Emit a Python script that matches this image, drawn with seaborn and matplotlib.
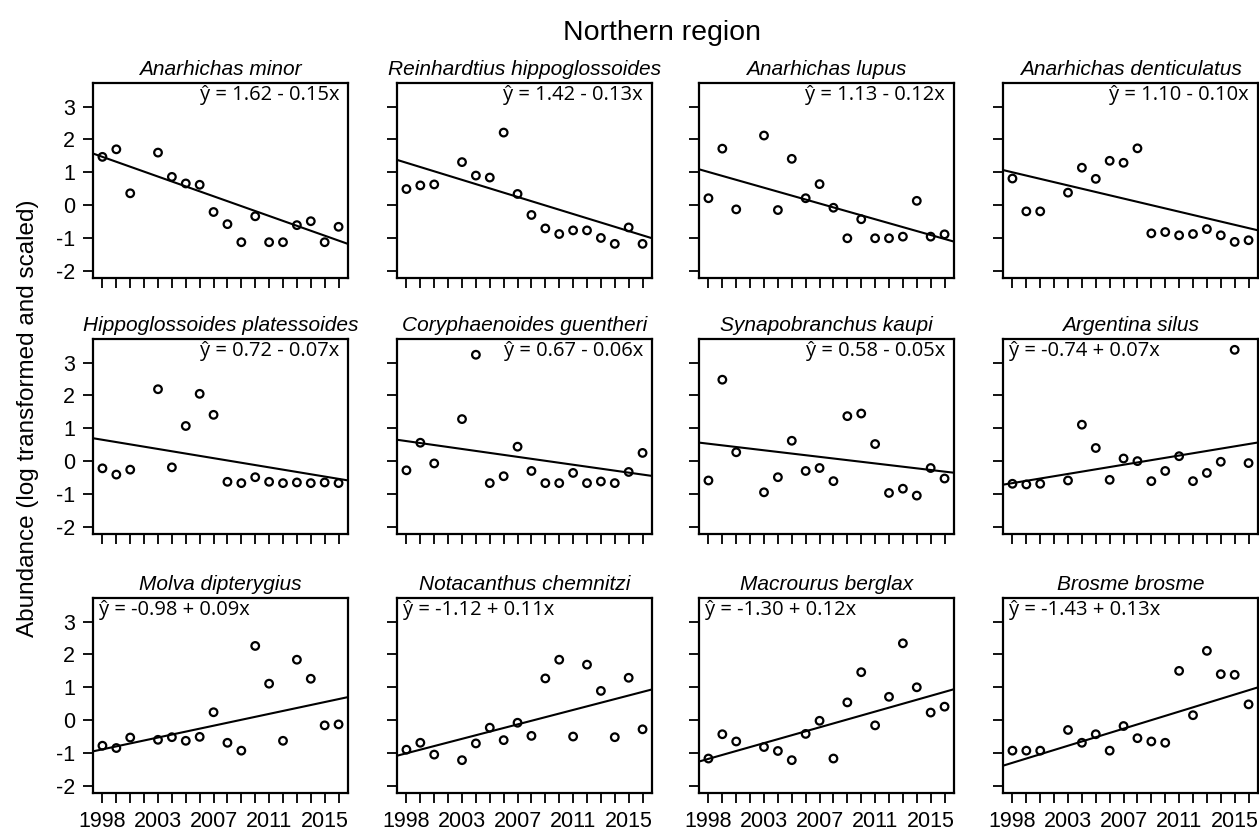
import numpy as np
import pandas as pd
import matplotlib
matplotlib.use('Agg')
import matplotlib.pyplot as plt
import seaborn as sns

### Data

x_pos = [1, 2, 3, 5, 6, 7, 8, 9, 10, 11, 12, 13, 14, 15, 16, 17, 18]
year_ticks = [1, 5, 9, 13, 17]
year_labels = ['1998', '2003', '2007', '2011', '2015']

species = ['Anarhichas minor', 'Reinhardtius hippoglossoides', 'Anarhichas lupus',
           'Anarhichas denticulatus', 'Hippoglossoides platessoides',
           'Coryphaenoides guentheri', 'Synapobranchus kaupi', 'Argentina silus',
           'Molva dipterygius', 'Notacanthus chemnitzi', 'Macrourus berglax',
           'Brosme brosme']

intercepts = [1.62, 1.42, 1.13, 1.10, 0.72, 0.67, 0.58, -0.74, -0.98, -1.12, -1.30, -1.43]
slopes = [-0.15, -0.13, -0.12, -0.10, -0.07, -0.06, -0.05, 0.07, 0.09, 0.11, 0.12, 0.13]

a_minor = [1.47, 1.70, 0.36, 1.60, 0.86, 0.66, 0.62, -0.21, -0.58, -1.13, -0.34, -1.13, -1.13, -0.61, -0.49, -1.13, -0.66]
r_hippo = [0.49, 0.60, 0.63, 1.31, 0.90, 0.84, 2.21, 0.34, -0.30, -0.71, -0.88, -0.77, -0.77, -1.00, -1.18, -0.68, -1.18]
a_lupus = [0.21, 1.72, -0.13, 2.12, -0.15, 1.41, 0.21, 0.64, -0.08, -1.01, -0.43, -1.01, -1.01, -0.96, 0.13, -0.96, -0.89]
a_dent = [0.81, -0.19, -0.19, 0.38, 1.14, 0.80, 1.35, 1.29, 1.73, -0.86, -0.82, -0.92, -0.88, -0.73, -0.92, -1.12, -1.07]
h_plat = [-0.22, -0.41, -0.26, 2.19, -0.19, 1.07, 2.05, 1.41, -0.63, -0.67, -0.49, -0.63, -0.67, -0.65, -0.67, -0.65, -0.67]
c_guen = [-0.28, 0.56, -0.07, 1.28, 3.24, -0.67, -0.46, 0.44, -0.30, -0.67, -0.67, -0.36, -0.67, -0.62, -0.67, -0.33, 0.25]
s_kaupi = [-0.59, 2.48, 0.27, -0.95, -0.49, 0.62, -0.30, -0.21, -0.61, 1.37, 1.45, 0.52, -0.97, -0.84, -1.05, -0.21, -0.53]
a_silus = [-0.69, -0.71, -0.69, -0.59, 1.11, 0.40, -0.57, 0.08, 0.00, -0.61, -0.30, 0.15, -0.61, -0.36, -0.02, 3.39, -0.06]
m_dipt = [-0.78, -0.85, -0.53, -0.60, -0.52, -0.63, -0.51, 0.24, -0.69, -0.93, 2.26, 1.11, -0.63, 1.84, 1.26, -0.16, -0.13]
n_chem = [-0.90, -0.69, -1.05, -1.22, -0.71, -0.23, -0.61, -0.08, -0.48, 1.27, 1.84, -0.50, 1.69, 0.89, -0.52, 1.29, -0.28]
m_berg = [-1.17, -0.43, -0.65, -0.82, -0.94, -1.22, -0.42, -0.02, -1.17, 0.54, 1.46, -0.16, 0.71, 2.34, 1.00, 0.23, 0.41]
b_brosme = [-0.93, -0.93, -0.93, -0.30, -0.69, -0.43, -0.93, -0.18, -0.55, -0.65, -0.69, 1.50, 0.15, 2.11, 1.40, 1.38, 0.48]

values = [a_minor, r_hippo, a_lupus, a_dent, h_plat, c_guen, s_kaupi, a_silus,
          m_dipt, n_chem, m_berg, b_brosme]

df = pd.concat([pd.DataFrame({'species': sp, 'x': x_pos, 'abundance': v})
                for sp, v in zip(species, values)], ignore_index=True)

### Plot

sns.set_style('ticks')
plt.rcParams['font.family'] = ['Liberation Sans', 'DejaVu Sans']
plt.rcParams['text.color'] = 'black'
plt.rcParams['xtick.color'] = 'black'
plt.rcParams['ytick.color'] = 'black'

W, H = 1259, 832
fig = plt.figure(figsize=(W / 100, H / 100), dpi=100)

col_left = [93, 397, 699, 1003]
row_top = [83, 339, 598]
pw, ph = 255, 195

x_lo, x_hi = 1 - 0.04 * 17, 18 + 0.04 * 17
y_lo, y_hi = -2 - 0.04 * 5.5, 3.5 + 0.04 * 5.5

for i, sp in enumerate(species):
    r, c = divmod(i, 4)
    ax = fig.add_axes([col_left[c] / W, 1 - (row_top[r] + ph) / H, pw / W, ph / H])
    sub = df[df['species'] == sp]
    sns.scatterplot(data=sub, x='x', y='abundance', ax=ax, marker='o', s=30,
                    facecolors='none', edgecolor='black', linewidth=1.6)
    a, b = intercepts[i], slopes[i]
    ax.axline((0, a), slope=b, color='black', lw=1.5)

    ax.set_xlim(x_lo, x_hi)
    ax.set_ylim(y_lo, y_hi)
    ax.set_xticks(range(1, 19))
    ax.set_yticks(range(-2, 4))
    if r == 2:
        ax.set_xticklabels([year_labels[year_ticks.index(t)] if t in year_ticks else ''
                            for t in range(1, 19)])
    else:
        ax.set_xticklabels([])
    if c == 0:
        ax.set_yticklabels([str(t) for t in range(-2, 4)])
    else:
        ax.set_yticklabels([])
    ax.tick_params(length=7, width=1.3, labelsize=15.5, pad=6, color='black',
                   labelcolor='black')
    for s in ax.spines.values():
        s.set_visible(True)
        s.set_linewidth(1.6)
        s.set_color('black')
    ax.set_xlabel('')
    ax.set_ylabel('')
    ax.set_title(sp, fontsize=15, style='italic', pad=6, color='black')

    sign = '-' if b < 0 else '+'
    eq = f'ŷ = {a:.2f} {sign} {abs(b):.2f}x'
    if b < 0:
        ax.text(1 - 9 / pw, 1 - 2 / ph, eq, transform=ax.transAxes, ha='right', va='top',
                fontsize=14.5, family=['Open Sans', 'DejaVu Sans'])
    else:
        ax.text(6 / pw, 1 - 2 / ph, eq, transform=ax.transAxes, ha='left', va='top',
                fontsize=14.5, family=['Open Sans', 'DejaVu Sans'])

fig.text(662 / W, 1 - 33 / H, 'Northern region', ha='center', va='center', fontsize=20.5)
fig.text(28 / W, 1 - 418 / H, 'Abundance (log transformed and scaled)', rotation=90,
         ha='center', va='center', fontsize=17.5)

fig.savefig('out.png', dpi=100)
